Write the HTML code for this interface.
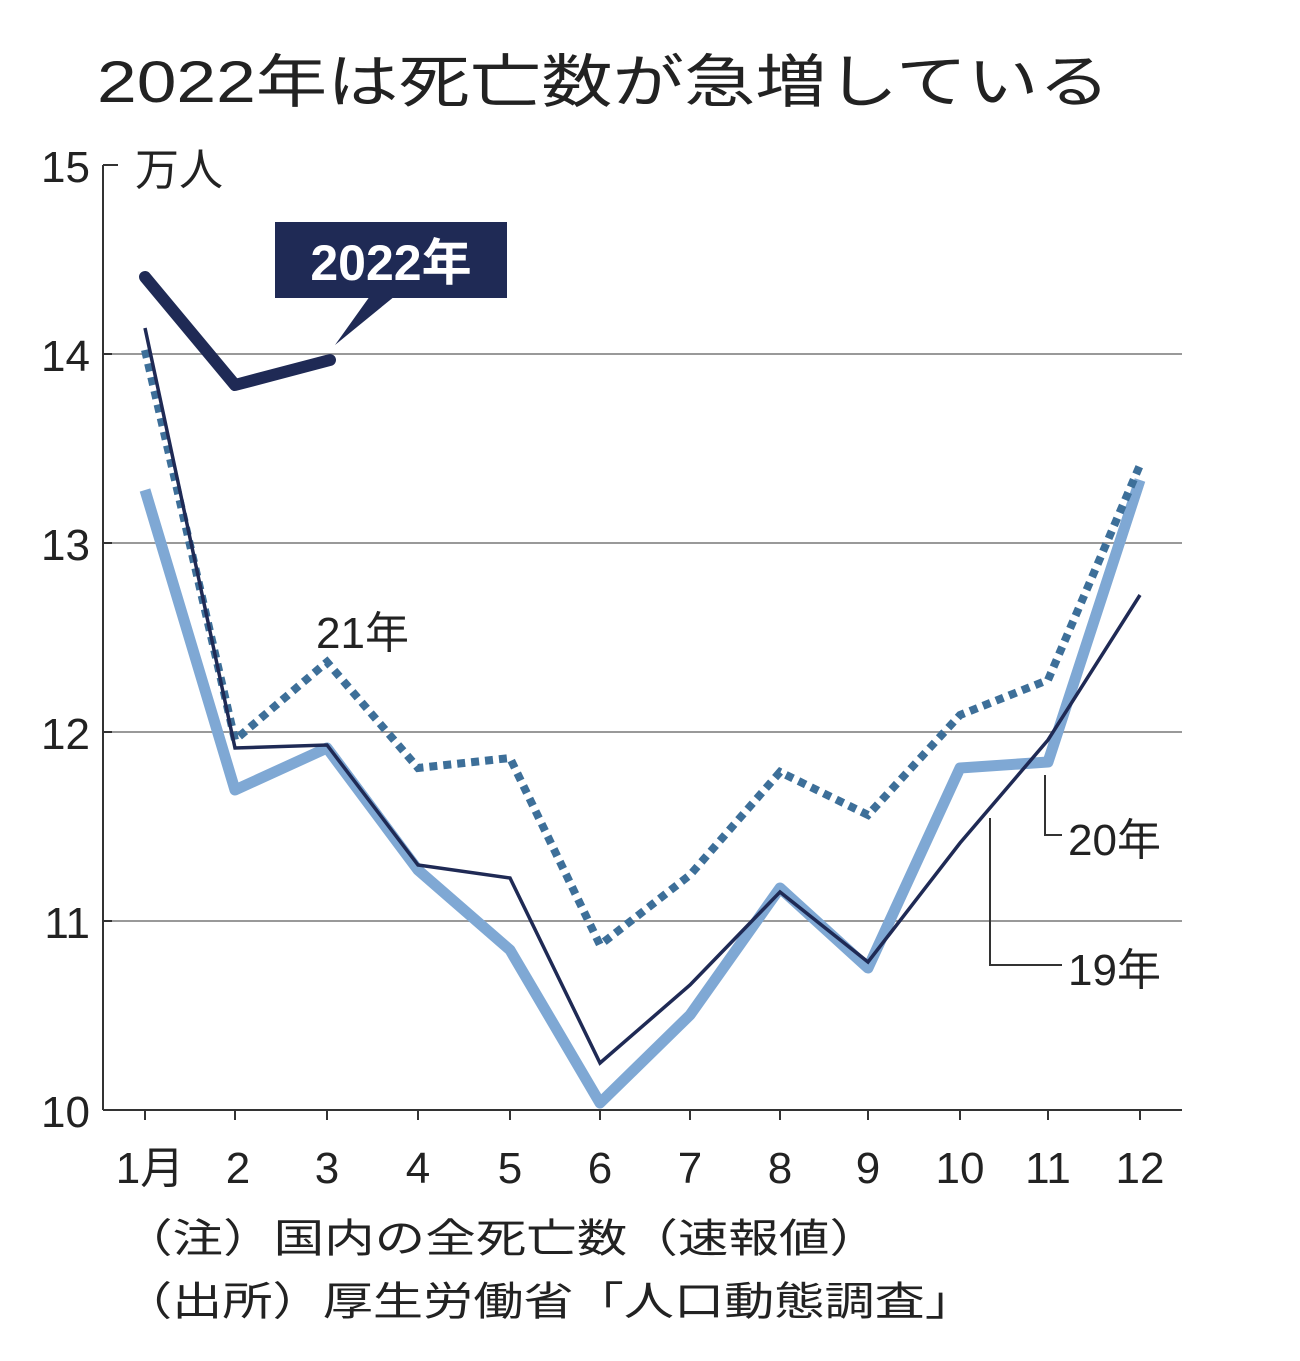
<!DOCTYPE html>
<html><head><meta charset="utf-8"><style>
html,body{margin:0;padding:0;background:#fff;}
svg{display:block;}
text{font-family:"Liberation Sans","Noto Sans CJK JP",sans-serif;fill:#222;}
</style></head><body>
<svg width="1300" height="1361" viewBox="0 0 1300 1361">
<text x="97" y="102" font-size="58" textLength="1013" lengthAdjust="spacingAndGlyphs">2022年は死亡数が急増している</text>
<g stroke="#999" stroke-width="2">
<line x1="103" y1="354" x2="1182" y2="354"/>
<line x1="103" y1="543" x2="1182" y2="543"/>
<line x1="103" y1="732" x2="1182" y2="732"/>
<line x1="103" y1="921" x2="1182" y2="921"/>
</g>
<g stroke="#333" stroke-width="2">
<line x1="103" y1="165" x2="103" y2="1110"/>
<line x1="103" y1="1110" x2="1182" y2="1110"/>
<line x1="103" y1="165" x2="118" y2="165"/>
<line x1="103" y1="354" x2="112" y2="354"/><line x1="103" y1="543" x2="112" y2="543"/>
<line x1="103" y1="732" x2="112" y2="732"/><line x1="103" y1="921" x2="112" y2="921"/>
<line x1="145" y1="1110" x2="145" y2="1120"/><line x1="235" y1="1110" x2="235" y2="1120"/>
<line x1="327" y1="1110" x2="327" y2="1120"/><line x1="418" y1="1110" x2="418" y2="1120"/>
<line x1="510" y1="1110" x2="510" y2="1120"/><line x1="600" y1="1110" x2="600" y2="1120"/>
<line x1="690" y1="1110" x2="690" y2="1120"/><line x1="780" y1="1110" x2="780" y2="1120"/>
<line x1="868" y1="1110" x2="868" y2="1120"/><line x1="960" y1="1110" x2="960" y2="1120"/>
<line x1="1048" y1="1110" x2="1048" y2="1120"/><line x1="1140" y1="1110" x2="1140" y2="1120"/>
</g>
<g font-size="44" text-anchor="end">
<text x="90" y="182">15</text><text x="90" y="371">14</text><text x="90" y="560">13</text>
<text x="90" y="749">12</text><text x="90" y="938">11</text><text x="90" y="1127">10</text>
</g>
<text x="135" y="185" font-size="44">万人</text>
<g font-size="44" text-anchor="middle">
<text x="150" y="1183">1月</text><text x="238" y="1183">2</text><text x="327" y="1183">3</text>
<text x="418" y="1183">4</text><text x="510" y="1183">5</text><text x="600" y="1183">6</text>
<text x="690" y="1183">7</text><text x="780" y="1183">8</text><text x="868" y="1183">9</text>
<text x="960" y="1183">10</text><text x="1048" y="1183">11</text><text x="1140" y="1183">12</text>
</g>
<polyline fill="none" stroke="#7fa8d4" stroke-width="11" stroke-linejoin="round" points="145,490 235,790 327,748 418,870 510,950 600,1103 690,1015 780,888 868,968 960,768 1048,762 1140,480"/>
<polyline fill="none" stroke="#3d6f99" stroke-width="8" stroke-dasharray="8,6" points="145,350 235,740 327,662 418,768 510,758 600,945 690,875 780,772 868,815 960,715 1048,680 1140,465"/>
<polyline fill="none" stroke="#1f2a55" stroke-width="3.5" points="145,328 235,748 327,745 418,865 510,878 600,1063 690,985 780,892 868,962 960,843 1048,740 1140,595"/>
<polyline fill="none" stroke="#1f2a55" stroke-width="12" stroke-linejoin="round" stroke-linecap="round" points="145,277 235,385 330,360"/>
<rect x="275" y="222" width="232" height="76" fill="#1f2a55"/>
<polygon points="370,296 395,296 335,345" fill="#1f2a55"/>
<text x="391" y="280" font-size="50" font-weight="bold" text-anchor="middle" style="fill:#fff">2022年</text>
<text x="316" y="648" font-size="44">21年</text>
<polyline fill="none" stroke="#333" stroke-width="2" points="1045,775 1045,835 1062,835"/>
<text x="1068" y="855" font-size="44">20年</text>
<polyline fill="none" stroke="#333" stroke-width="2" points="990,818 990,965 1062,965"/>
<text x="1068" y="985" font-size="44">19年</text>
<text x="122" y="1252" font-size="40" textLength="758" lengthAdjust="spacingAndGlyphs">（注）国内の全死亡数（速報値）</text>
<text x="122" y="1315" font-size="40" textLength="853" lengthAdjust="spacingAndGlyphs">（出所）厚生労働省「人口動態調査」</text>
</svg>
</body></html>
